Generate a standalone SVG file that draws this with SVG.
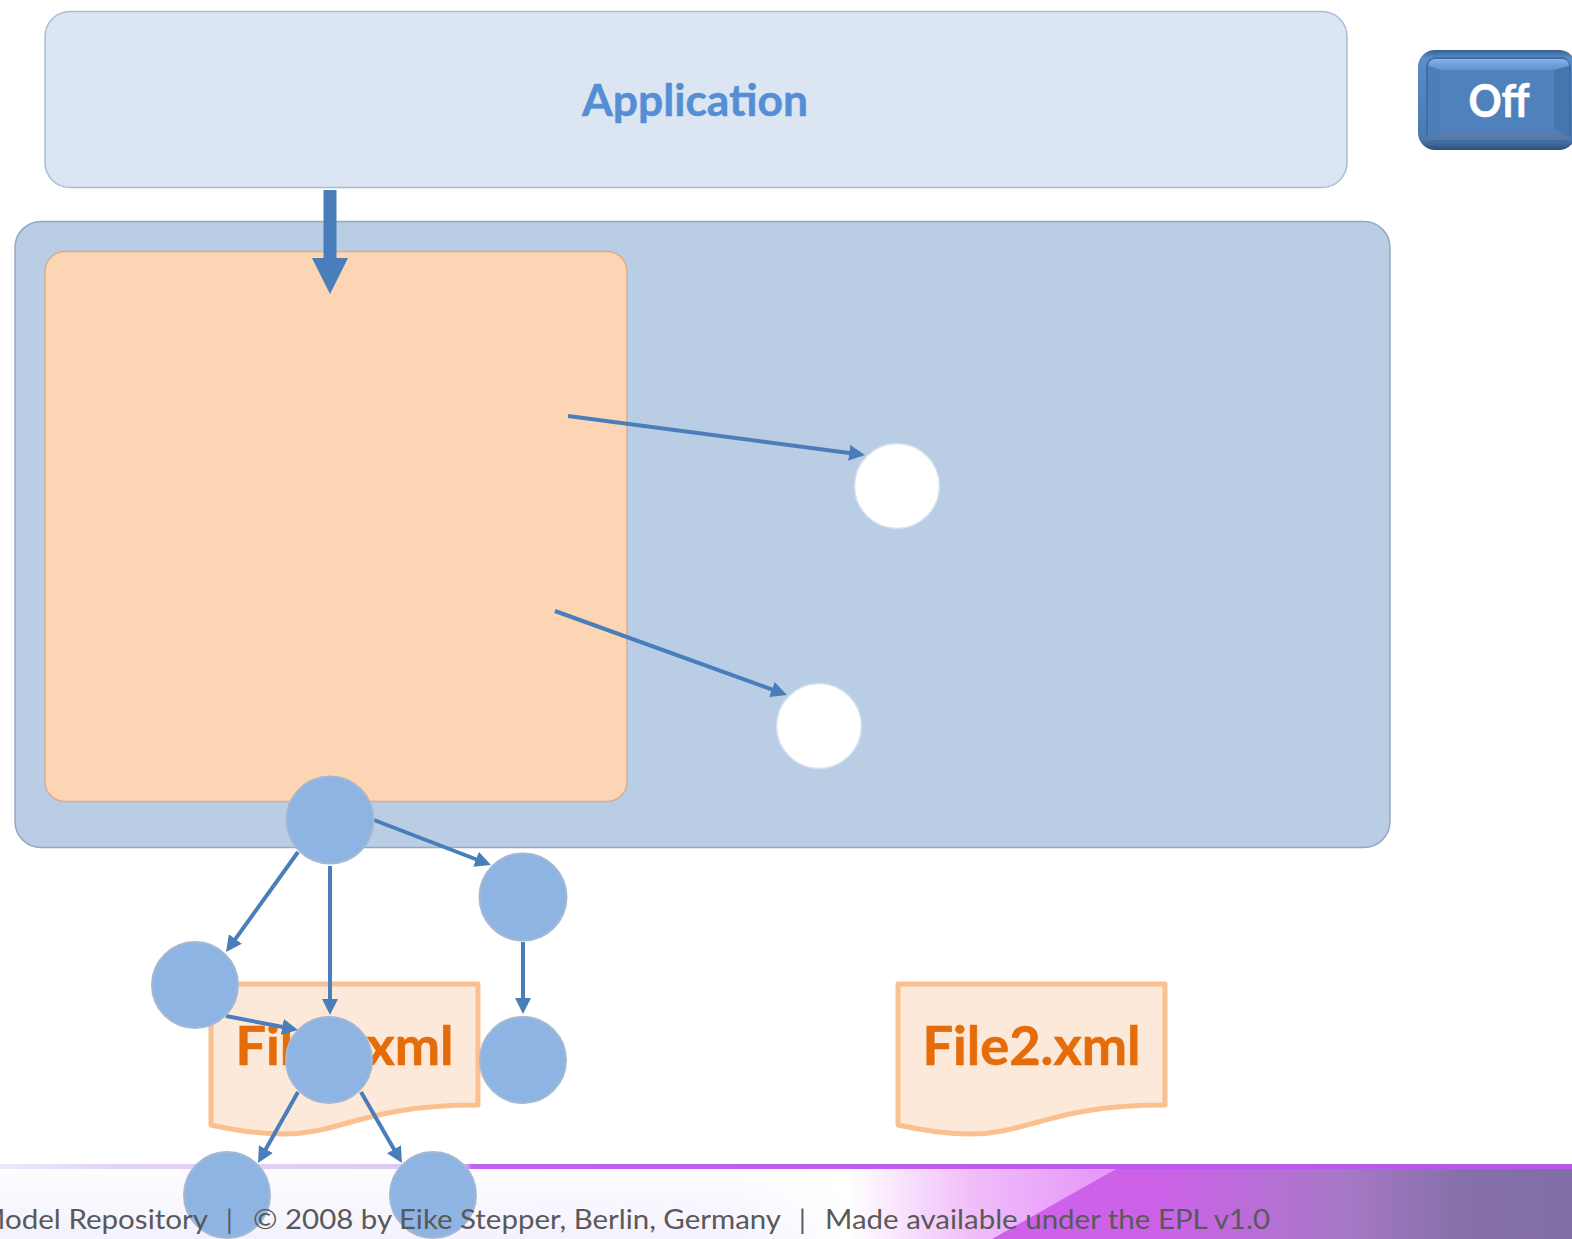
<svg xmlns="http://www.w3.org/2000/svg" width="1572" height="1239" viewBox="0 0 1572 1239">
<style>
text{font-family:Lato,"Open Sans","Liberation Sans",sans-serif}
.lbl{font-weight:700;text-anchor:middle}
.file{font-size:54px;fill:#e46c0a;stroke:#e46c0a;stroke-width:.6}
.doc{fill:#fde9d9;stroke:#fac090;stroke-width:5;stroke-linejoin:round}
.ball{fill:#8eb4e3;stroke:#a5b8d2;stroke-width:2;filter:url(#soft)}
.hole{fill:#fff;stroke:#d4e0ef;stroke-width:1.5;filter:url(#soft)}
.conn{stroke:#4a7ebb;stroke-width:4;fill:none;marker-end:url(#head)}
.foot{font-size:27px;fill:#595959}
</style>
<defs>
<filter id="soft" x="-5%" y="-5%" width="110%" height="110%"><feGaussianBlur stdDeviation=".6"/></filter>
<marker id="head" markerUnits="userSpaceOnUse" markerWidth="18" markerHeight="18" refX="2" refY="8" orient="auto"><path d="M0,0L16,8L0,16Z" fill="#4a7ebb"/></marker>
<marker id="bighead" markerUnits="userSpaceOnUse" markerWidth="38" markerHeight="38" refX="0" refY="18" orient="auto"><path d="M0,0L36,18L0,36Z" fill="#4a7ebb"/></marker>
<linearGradient id="band" x1="0" x2="1572" y1="0" y2="0" gradientUnits="userSpaceOnUse">
<stop offset="0" stop-color="#f3f2fd"/><stop offset=".46" stop-color="#f5f1fe"/><stop offset=".54" stop-color="#fff"/><stop offset=".62" stop-color="#f0bcfa"/><stop offset=".7" stop-color="#e698f8"/>
</linearGradient>
<linearGradient id="fade" x1="0" x2="0" y1="0" y2="1">
<stop offset="0" stop-color="#fff" stop-opacity=".85"/><stop offset="1" stop-color="#fff" stop-opacity="0"/>
</linearGradient>
<linearGradient id="bandR" x1="992" x2="1572" y1="0" y2="0" gradientUnits="userSpaceOnUse">
<stop offset="0" stop-color="#d060ea"/><stop offset=".3" stop-color="#cc62e8"/><stop offset=".6" stop-color="#a878c8"/><stop offset=".82" stop-color="#8570a8"/><stop offset="1" stop-color="#826ea6"/>
</linearGradient>
<linearGradient id="rule" x1="0" x2="1572" y1="0" y2="0" gradientUnits="userSpaceOnUse">
<stop offset="0" stop-color="#efe8fb"/><stop offset=".07" stop-color="#e2d4f6"/><stop offset=".295" stop-color="#dcc8f4"/><stop offset=".3" stop-color="#c060f4"/><stop offset="1" stop-color="#b458ec"/>
</linearGradient>
<linearGradient id="rim" x1="0" x2="0" y1="0" y2="1">
<stop offset="0" stop-color="#37608f"/><stop offset=".08" stop-color="#5b8dcb"/><stop offset=".9" stop-color="#4a78b0"/><stop offset="1" stop-color="#314f76"/>
</linearGradient>
<linearGradient id="bevT" x1="0" x2="0" y1="0" y2="1">
<stop offset="0" stop-color="#86b2ea"/><stop offset="1" stop-color="#5f90d0"/>
</linearGradient>
<linearGradient id="bevB" x1="0" x2="0" y1="0" y2="1">
<stop offset="0" stop-color="#4f7fb9"/><stop offset="1" stop-color="#5c7aa4"/>
</linearGradient>
</defs>

<g id="footer">
<rect x="0" y="1168" width="1572" height="71" fill="url(#band)"/>
<rect x="0" y="1168" width="849" height="71" fill="url(#fade)"/>
<path d="M1118,1168H1572V1239H992Z" fill="url(#bandR)"/>
<rect x="0" y="1164" width="1572" height="5" fill="url(#rule)"/>
</g>

<g id="application">
<rect x="45" y="11.5" width="1302" height="176" rx="25" fill="#dce6f2" stroke="#a9bdd8" stroke-width="1.5"/>
<text class="lbl" x="695" y="116" font-size="44" fill="#558ed5" stroke="#558ed5" stroke-width=".5" textLength="226" lengthAdjust="spacingAndGlyphs">Application</text>
</g>

<g id="off-button">
<rect x="1418" y="50" width="158" height="100" rx="17" fill="url(#rim)"/>
<rect x="1427" y="58" width="143" height="83" rx="9" fill="#4f81bd" stroke="#3f6ea6" stroke-width="2"/>
<path d="M1428,66Q1429,59 1436,59H1562Q1569,59 1569,66L1554,70H1440Z" fill="url(#bevT)"/>
<path d="M1428,66L1440,70V128L1428,138Z" fill="#4c7eba"/>
<path d="M1569,66L1554,70V128L1569,138Z" fill="#4776ae"/>
<path d="M1428,138L1440,128H1554L1569,138Q1568,140 1560,140H1436Q1429,140 1428,138Z" fill="url(#bevB)"/>
<text class="lbl" x="1499" y="117" font-size="45" fill="#fff" stroke="#fff" stroke-width=".6" textLength="61" lengthAdjust="spacingAndGlyphs">Off</text>
</g>

<g id="container">
<rect x="15" y="221.5" width="1375" height="626" rx="26" fill="#b9cde5" stroke="#95a8c0" stroke-width="1.5"/>
</g>
<g id="region">
<rect x="45" y="251.5" width="582" height="550" rx="20" fill="#fcd5b5" stroke="#d8ae90" stroke-width="1.5"/>
</g>

<g id="file1">
<path class="doc" d="M211,984H478V1105C363,1105 343,1134 283,1134C258,1134 238,1131 211,1125Z"/>
<text class="lbl file" x="344.500" y="1065" textLength="218" lengthAdjust="spacingAndGlyphs">File1.xml</text>
</g>
<g id="file2">
<path class="doc" d="M898,984H1165V1105C1050,1105 1030,1134 970,1134C945,1134 925,1131 898,1125Z"/>
<text class="lbl file" x="1031.500" y="1065" textLength="218" lengthAdjust="spacingAndGlyphs">File2.xml</text>
</g>

<g id="connectors">
<line x1="330" y1="190" x2="330" y2="258" stroke="#4a7ebb" stroke-width="13" marker-end="url(#bighead)"/>
<line class="conn" x1="568" y1="416" x2="851.100" y2="453.200"/>
<line class="conn" x1="555" y1="611" x2="773.800" y2="690.200"/>
<line class="conn" x1="374" y1="820" x2="477.900" y2="860"/>
<line class="conn" x1="298" y1="852" x2="234.200" y2="940.600"/>
<line class="conn" x1="330" y1="866" x2="330" y2="1001"/>
<line class="conn" x1="226" y1="1016" x2="284.300" y2="1027.300"/>
<line class="conn" x1="523" y1="942" x2="523" y2="1000"/>
<line class="conn" x1="298" y1="1092" x2="264.900" y2="1150.800"/>
<line class="conn" x1="361" y1="1092" x2="395" y2="1150.900"/>
</g>

<g id="hole1"><circle class="hole" cx="897" cy="486" r="42.500"/></g>
<g id="hole2"><circle class="hole" cx="819" cy="726" r="42.500"/></g>
<g id="ball-top"><circle class="ball" cx="330" cy="820" r="43.500"/></g>
<g id="ball-right"><circle class="ball" cx="523" cy="897" r="43.500"/></g>
<g id="ball-left"><circle class="ball" cx="195" cy="985" r="43"/></g>
<g id="ball-mid"><circle class="ball" cx="329" cy="1060" r="43"/></g>
<g id="ball-right-low"><circle class="ball" cx="523" cy="1060" r="43"/></g>
<g id="ball-bottom-left"><circle class="ball" cx="227" cy="1195" r="43"/></g>
<g id="ball-bottom-right"><circle class="ball" cx="433" cy="1195" r="43"/></g>

<g id="footer-text">
<text class="foot" x="-22" y="1229" textLength="230" lengthAdjust="spacingAndGlyphs">Model Repository</text>
<text class="foot" x="226" y="1229">|</text>
<text class="foot" x="253" y="1229" textLength="528" lengthAdjust="spacingAndGlyphs">© 2008 by Eike Stepper, Berlin, Germany</text>
<text class="foot" x="799" y="1229">|</text>
<text class="foot" x="825" y="1229" textLength="445" lengthAdjust="spacingAndGlyphs">Made available under the EPL v1.0</text>
</g>
</svg>
